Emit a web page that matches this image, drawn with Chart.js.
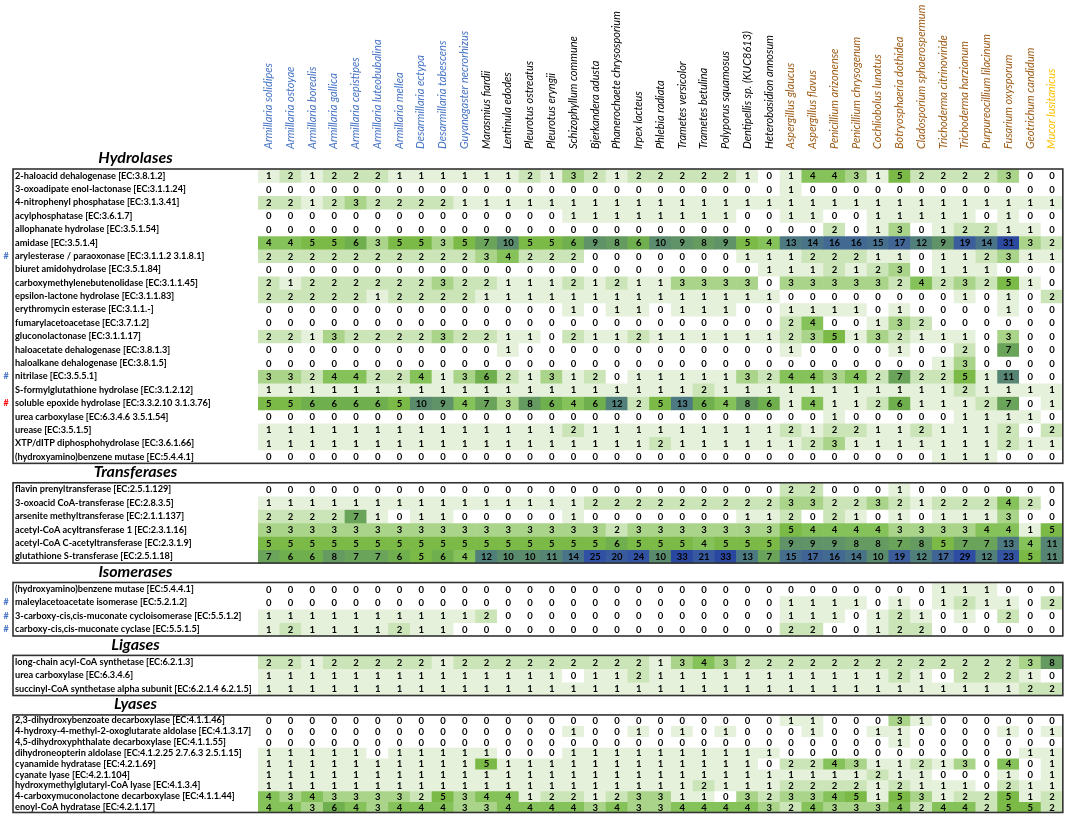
<!DOCTYPE html>
<html><head><meta charset="utf-8">
<script src="https://cdn.jsdelivr.net/npm/chart.js@4.4.1/dist/chart.umd.min.js"></script>
<style>html,body{margin:0;padding:0;background:#fff;}#wrap{width:1072px;height:818px;position:relative;}</style>
</head><body><div id="wrap"><canvas id="c"></canvas></div>
<script>
// ---------- DATA ----------
const species = ["Armillaria solidipes","Armillaria ostoyae","Armillaria borealis","Armillaria gallica","Armillaria cepistipes","Armillaria luteobubalina","Armillaria mellea","Desarmillaria ectypa","Desarmillaria tabescens","Guyanagaster necrorhizus","Marasmius fiardii","Lentinula edodes","Pleurotus ostreatus","Pleurotus eryngii","Schizophyllum commune","Bjerkandera adusta","Phanerochaete chrysosporium","Irpex lacteus","Phlebia radiata","Trametes versicolor","Trametes betulina","Polyporus squamosus","Dentipellis sp. (KUC8613)","Heterobasidion annosum","Aspergillus glaucus","Aspergillus flavus","Penicillium arizonense","Penicillium chrysogenum","Cochliobolus lunatus","Botryosphaeria dothidea","Cladosporium sphaerospermum","Trichoderma citrinoviride","Trichoderma harzianum","Purpureocillium lilacinum","Fusarium oxysporum","Geotrichum candidum","Mucor lusitanicus"];
const speciesGroup = [0,0,0,0,0,0,0,0,0,0,1,1,1,1,1,1,1,1,1,1,1,1,1,1,2,2,2,2,2,2,2,2,2,2,2,2,3];

const hydrolaseLabels = ["2-haloacid dehalogenase [EC:3.8.1.2]","3-oxoadipate enol-lactonase [EC:3.1.1.24]","4-nitrophenyl phosphatase [EC:3.1.3.41]","acylphosphatase [EC:3.6.1.7]","allophanate hydrolase [EC:3.5.1.54]","amidase [EC:3.5.1.4]","arylesterase / paraoxonase [EC:3.1.1.2 3.1.8.1]","biuret amidohydrolase [EC:3.5.1.84]","carboxymethylenebutenolidase [EC:3.1.1.45]","epsilon-lactone hydrolase [EC:3.1.1.83]","erythromycin esterase [EC:3.1.1.-]","fumarylacetoacetase [EC:3.7.1.2]","gluconolactonase [EC:3.1.1.17]","haloacetate dehalogenase [EC:3.8.1.3]","haloalkane dehalogenase [EC:3.8.1.5]","nitrilase [EC:3.5.5.1]","S-formylglutathione hydrolase [EC:3.1.2.12]","soluble epoxide hydrolase [EC:3.3.2.10 3.1.3.76]","urea carboxylase [EC:6.3.4.6 3.5.1.54]","urease [EC:3.5.1.5]","XTP/dITP diphosphohydrolase [EC:3.6.1.66]","(hydroxyamino)benzene mutase [EC:5.4.4.1]"];
const hydrolaseValues = [
[1,2,1,2,2,2,1,1,1,1,1,1,2,1,3,2,1,2,2,2,2,2,1,0,1,4,4,3,1,5,2,2,2,2,3,0,0],
[0,0,0,0,0,0,0,0,0,0,0,0,0,0,0,0,0,0,0,0,0,0,0,0,1,0,0,0,0,0,0,0,0,0,0,0,0],
[2,2,1,2,3,2,2,2,2,1,1,1,1,1,1,1,1,1,1,1,1,1,1,1,1,1,1,1,1,1,1,1,1,1,1,1,1],
[0,0,0,0,0,0,0,0,0,0,0,0,0,0,1,1,1,1,1,1,1,1,0,0,1,1,0,0,1,1,1,1,1,0,1,0,0],
[0,0,0,0,0,0,0,0,0,0,0,0,0,0,0,0,0,0,0,0,0,0,0,0,0,0,2,0,1,3,0,1,2,2,1,1,0],
[4,4,5,5,6,3,5,5,3,5,7,10,5,5,6,9,8,6,10,9,8,9,5,4,13,14,16,16,15,17,12,9,19,14,31,3,2],
[2,2,2,2,2,2,2,2,2,2,3,4,2,2,2,0,0,0,0,0,0,0,1,1,1,2,2,2,1,1,0,1,1,2,3,1,1],
[0,0,0,0,0,0,0,0,0,0,0,0,0,0,0,0,0,0,0,0,0,0,0,1,1,1,2,1,2,3,0,1,1,1,0,0,0],
[2,1,2,2,2,2,2,2,3,2,2,1,1,1,2,1,2,1,1,3,3,3,3,0,3,3,3,3,3,2,4,2,3,2,5,1,0],
[2,2,2,2,2,1,2,2,2,2,1,1,1,1,1,1,1,1,1,1,1,1,1,1,0,0,0,0,0,0,0,0,1,0,1,0,2],
[0,0,0,0,0,0,0,0,0,0,0,0,0,0,1,0,1,1,0,1,1,1,0,0,1,1,1,1,0,1,0,0,0,0,1,0,0],
[0,0,0,0,0,0,0,0,0,0,0,0,0,0,0,0,0,0,0,0,0,0,0,0,2,4,0,0,1,3,2,0,0,0,0,0,0],
[2,2,1,3,2,2,2,2,3,2,2,1,1,0,2,1,1,2,1,1,1,1,1,1,2,3,5,1,3,2,1,1,1,0,3,0,0],
[0,0,0,0,0,0,0,0,0,0,0,1,0,0,0,0,0,0,0,0,0,0,0,0,1,0,0,0,0,1,0,0,2,0,7,0,0],
[0,0,0,0,0,0,0,0,0,0,0,0,0,0,0,0,0,0,0,0,0,0,0,0,0,0,0,0,0,0,0,1,3,0,0,0,0],
[3,3,2,4,4,2,2,4,1,3,6,2,1,3,1,2,0,1,1,1,1,1,3,2,4,4,3,4,2,7,2,2,5,1,11,0,0],
[1,1,1,1,1,1,1,1,1,1,1,1,1,1,1,1,1,1,1,1,2,1,1,1,1,1,1,1,1,1,1,1,2,1,1,1,1],
[5,5,6,6,6,6,5,10,9,4,7,3,8,6,4,6,12,2,5,13,6,4,8,6,1,4,1,1,2,6,1,1,1,2,7,0,1],
[0,0,0,0,0,0,0,0,0,0,0,0,0,0,0,0,0,0,0,0,0,0,0,0,0,0,1,0,0,0,0,0,1,1,1,1,0],
[1,1,1,1,1,1,1,1,1,1,1,1,1,1,2,1,1,1,1,1,1,1,1,1,2,1,2,2,1,1,2,1,1,1,2,0,2],
[1,1,1,1,1,1,1,1,1,1,1,1,1,1,1,1,1,1,2,1,1,1,1,1,1,2,3,1,1,1,1,1,1,1,2,1,1],
[0,0,0,0,0,0,0,0,0,0,0,0,0,0,0,0,0,0,0,0,0,0,0,0,0,0,0,0,0,0,0,1,1,1,0,0,0]
];
const hydrolaseMarks = [null,null,null,null,null,null,"blue",null,null,null,null,null,null,null,null,"blue",null,"red",null,null,null,null];

const transferaseLabels = ["flavin prenyltransferase [EC:2.5.1.129]","3-oxoacid CoA-transferase [EC:2.8.3.5]","arsenite methyltransferase [EC:2.1.1.137]","acetyl-CoA acyltransferase 1 [EC:2.3.1.16]","acetyl-CoA C-acetyltransferase [EC:2.3.1.9]","glutathione S-transferase [EC:2.5.1.18]"];
const transferaseValues = [
[0,0,0,0,0,0,0,0,0,0,0,0,0,0,0,0,0,0,0,0,0,0,0,0,2,2,0,0,0,1,0,0,0,0,0,0,0],
[1,1,1,1,1,1,1,1,1,1,1,1,1,1,1,2,2,2,2,2,2,2,2,2,3,3,2,2,3,2,1,2,2,2,4,2,0],
[2,2,2,2,7,1,0,1,1,0,0,0,0,0,1,0,0,0,0,0,0,0,1,1,2,0,2,1,0,1,0,1,1,1,3,0,0],
[3,3,3,3,3,3,3,3,3,3,3,3,3,3,3,3,2,3,3,3,3,3,3,3,5,4,4,4,4,3,3,3,3,4,4,1,5],
[5,5,5,5,5,5,5,5,5,5,5,5,5,5,5,5,6,5,5,5,4,5,5,5,9,9,9,8,8,7,8,5,7,7,13,4,11],
[7,6,6,8,7,7,6,5,6,4,12,10,10,11,14,25,20,24,10,33,21,33,13,7,15,17,16,14,10,19,12,17,29,12,23,5,11]
];
const transferaseMarks = [null,null,null,null,null,null];

const isomeraseLabels = ["(hydroxyamino)benzene mutase [EC:5.4.4.1]","maleylacetoacetate isomerase [EC:5.2.1.2]","3-carboxy-cis,cis-muconate cycloisomerase [EC:5.5.1.2]","carboxy-cis,cis-muconate cyclase [EC:5.5.1.5]"];
const isomeraseValues = [
[0,0,0,0,0,0,0,0,0,0,0,0,0,0,0,0,0,0,0,0,0,0,0,0,0,0,0,0,0,0,0,1,1,1,0,0,0],
[0,0,0,0,0,0,0,0,0,0,0,0,0,0,0,0,0,0,0,0,0,0,0,0,1,1,1,1,0,1,0,1,2,1,1,0,2],
[1,1,1,1,1,1,1,1,1,1,2,0,0,0,0,0,0,0,0,0,0,0,0,0,1,1,1,0,1,2,1,0,1,0,2,0,0],
[1,2,1,1,1,1,2,1,1,0,0,0,0,0,0,0,0,0,0,0,0,0,0,0,2,2,0,0,1,2,2,0,0,0,0,0,0]
];
const isomeraseMarks = [null,"blue","blue","blue"];

const ligaseLabels = ["long-chain acyl-CoA synthetase [EC:6.2.1.3]","urea carboxylase [EC:6.3.4.6]","succinyl-CoA synthetase alpha subunit [EC:6.2.1.4 6.2.1.5]"];
const ligaseValues = [
[2,2,1,2,2,2,2,2,1,2,2,2,2,2,2,2,2,2,1,3,4,3,2,2,2,2,2,2,2,2,2,2,2,2,2,3,8],
[1,1,1,1,1,1,1,1,1,1,1,1,1,1,0,1,1,2,1,1,1,1,1,1,1,1,1,1,1,2,1,0,2,2,2,1,0],
[1,1,1,1,1,1,1,1,1,1,1,1,1,1,1,1,1,1,1,1,1,1,1,1,1,1,1,1,1,1,1,1,1,1,1,2,2]
];
const ligaseMarks = [null,null,null];

const lyaseLabels = ["2,3-dihydroxybenzoate decarboxylase [EC:4.1.1.46]","4-hydroxy-4-methyl-2-oxoglutarate aldolase [EC:4.1.3.17]","4,5-dihydroxyphthalate decarboxylase [EC:4.1.1.55]","dihydroneopterin aldolase [EC:4.1.2.25 2.7.6.3 2.5.1.15]","cyanamide hydratase [EC:4.2.1.69]","cyanate lyase [EC:4.2.1.104]","hydroxymethylglutaryl-CoA lyase [EC:4.1.3.4]","4-carboxymuconolactone decarboxylase [EC:4.1.1.44]","enoyl-CoA hydratase [EC:4.2.1.17]"];
const lyaseValues = [
[0,0,0,0,0,0,0,0,0,0,0,0,0,0,0,0,0,0,0,0,0,0,0,0,1,1,0,0,0,3,1,0,0,0,0,0,0],
[0,0,0,0,0,0,0,0,0,0,0,0,0,0,1,0,0,1,0,1,0,1,0,0,0,1,0,0,1,1,0,0,0,0,1,0,1],
[0,0,0,0,0,0,0,0,0,0,0,0,0,0,0,0,0,0,0,0,0,0,0,0,0,0,0,0,0,1,0,0,0,0,0,0,0],
[1,1,1,1,1,0,1,1,1,1,1,0,0,0,1,1,1,1,1,1,1,1,1,1,0,0,0,0,0,0,0,0,0,0,0,1,1],
[1,1,1,1,1,1,1,1,1,1,5,1,1,1,1,1,1,1,1,1,1,1,1,0,2,2,4,3,1,1,2,1,3,0,4,0,1],
[1,1,1,1,1,1,1,1,1,1,1,1,1,1,1,1,1,1,1,1,1,1,1,1,1,1,1,1,2,1,1,0,0,0,1,0,1],
[1,1,1,1,1,1,1,1,1,1,1,1,1,1,1,1,1,1,1,1,2,1,1,1,2,2,2,2,1,2,1,1,1,0,2,1,1],
[4,3,4,3,3,3,3,2,5,3,4,4,1,2,2,1,2,3,3,1,1,0,3,2,3,3,4,5,1,5,3,1,2,2,5,1,2],
[4,4,3,6,4,3,4,4,4,3,3,4,4,4,4,3,4,3,3,4,4,4,4,3,2,4,3,3,3,4,2,4,4,2,5,5,2]
];
const lyaseMarks = [null,null,null,null,null,null,null,null,null];

// ---------- STYLE ----------
const groupColors = ["#4472C4","#000000","#9C5A14","#FFC000"];
const markColors = {blue:"#4472C4", red:"#FF0000"};
const colorStops = [[0,[255,255,255]],[1,[229,241,219]],[2,[204,229,184]],[3,[171,212,139]],[4,[134,194,90]],[5,[123,186,71]],[6,[112,175,78]],[7,[106,163,90]],[8,[101,154,97]],[10,[90,139,108]],[12,[81,128,122]],[14,[73,116,135]],[16,[66,105,146]],[19,[59,93,156]],[25,[48,80,164]],[33,[42,71,159]]];
function cellColor(v){
  for(let i=1;i<colorStops.length;i++){
    const [v1,c1]=colorStops[i]; const [v0,c0]=colorStops[i-1];
    if(v<=v1){const t=(v-v0)/(v1-v0);return `rgb(${c0.map((c,k)=>Math.round(c+(c1[k]-c)*t)).join(",")})`;}
  }
  const c=colorStops[colorStops.length-1][1];return `rgb(${c.join(",")})`;
}
const FONT = 'Lato, "Open Sans", "Liberation Sans", sans-serif';
const GAP = 1.45;

const groups = [
  {name:"Hydrolases", labels:hydrolaseLabels, values:hydrolaseValues, marks:hydrolaseMarks, rowH:1},
  {name:"Transferases", labels:transferaseLabels, values:transferaseValues, marks:transferaseMarks, rowH:1},
  {name:"Isomerases", labels:isomeraseLabels, values:isomeraseValues, marks:isomeraseMarks, rowH:1},
  {name:"Ligases", labels:ligaseLabels, values:ligaseValues, marks:ligaseMarks, rowH:1},
  {name:"Lyases", labels:lyaseLabels, values:lyaseValues, marks:lyaseMarks, rowH:0.81}
];

const rows = [];
let u = 0;
groups.forEach((g,gi)=>{
  if(gi>0) u += GAP;
  g.top = u;
  g.labels.forEach((lab,ri)=>{
    rows.push({label:lab, values:g.values[ri], mark:g.marks[ri], lo:u, hi:u+g.rowH});
    u += g.rowH;
  });
  g.bottom = u;
});
const total = u;

const datasets = rows.map(r=>({
  data: r.values.map(()=>[r.lo, r.hi]),
  backgroundColor: r.values.map(cellColor),
  borderWidth: 0,
  grouped: false,
  barPercentage: 1,
  categoryPercentage: 1,
  cellValues: r.values
}));

const decor = {
  id:'decor',
  afterDatasetsDraw(chart){
    const ctx = chart.ctx, ys = chart.scales.y, ca = chart.chartArea;
    ctx.save();
    ctx.font = `bold 9.5px ${FONT}`;
    ctx.fillStyle = '#000';
    ctx.textAlign = 'center'; ctx.textBaseline = 'middle';
    chart.data.datasets.forEach((ds,i)=>{
      const meta = chart.getDatasetMeta(i);
      meta.data.forEach((el,j)=>{
        ctx.fillText(String(ds.cellValues[j]), el.x, (el.y+el.base)/2 + 0.5);
      });
    });
    const boxLeft = 13;
    groups.forEach(g=>{
      const y0 = ys.getPixelForValue(g.top), y1 = ys.getPixelForValue(g.bottom);
      ctx.strokeStyle = '#333'; ctx.lineWidth = 1.6;
      ctx.strokeRect(boxLeft, y0, ca.right - boxLeft, y1 - y0);
      ctx.font = `italic bold 16px ${FONT}`;
      ctx.fillStyle = '#000'; ctx.textAlign='center'; ctx.textBaseline='middle';
      ctx.fillText(g.name, (boxLeft + ca.left)/2, ys.getPixelForValue(g.top - GAP/2) - 1);
    });
    ctx.font = `bold 9px ${FONT}`;
    rows.forEach(r=>{
      if(!r.mark) return;
      ctx.fillStyle = markColors[r.mark];
      ctx.fillText('#', 6, ys.getPixelForValue((r.lo+r.hi)/2));
    });
    ctx.restore();
  }
};

new Chart(document.getElementById('c'), {
  type:'bar',
  data:{labels:species, datasets},
  options:{
    responsive:true, maintainAspectRatio:false, animation:false,
    layout:{padding:{left:15, right:4, top:0, bottom:4}},
    plugins:{legend:{display:false}, tooltip:{enabled:false}},
    scales:{
      x:{type:'category', position:'top', offset:true,
         grid:{display:false, drawTicks:false}, border:{display:false},
         ticks:{autoSkip:false, minRotation:90, maxRotation:90, padding:20, labelOffset:13,
                font:{family:FONT, size:11, style:'italic'},
                color:(c)=>groupColors[speciesGroup[c.index]]},
         afterFit:(s)=>{s.height = 169;}},
      y:{type:'linear', reverse:true, min:0, max:total,
         grid:{display:false, drawTicks:false}, border:{display:false},
         afterBuildTicks:(s)=>{s.ticks = rows.map(r=>({value:(r.lo+r.hi)/2}));},
         ticks:{autoSkip:false, crossAlign:'far', padding:0, color:'#000',
                font:{family:FONT, size:9.2, weight:'bold'},
                callback:(v,i)=>rows[i] ? rows[i].label : ''},
         afterFit:(s)=>{s.width = 243;}}
    }
  },
  plugins:[decor]
});
</script></body></html>
